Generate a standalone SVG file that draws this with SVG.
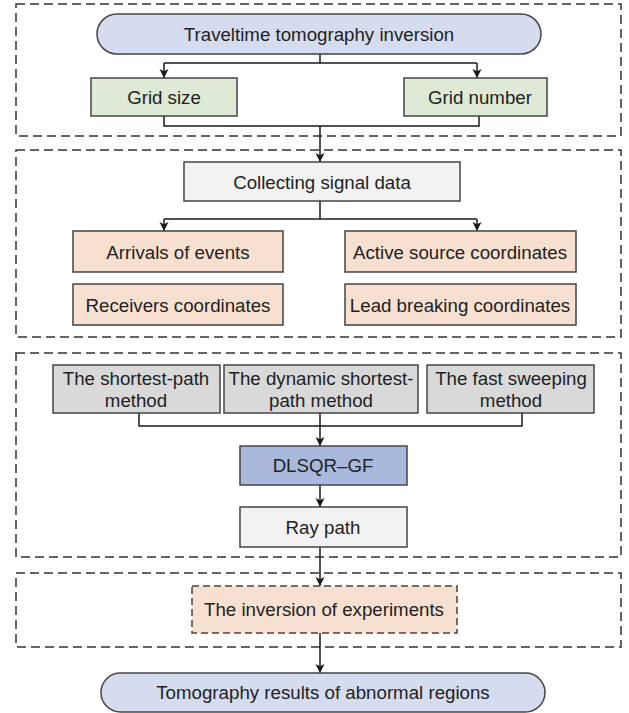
<svg xmlns="http://www.w3.org/2000/svg" width="629" height="713" viewBox="0 0 629 713">
<defs>
<marker id="arr" viewBox="0 0 10 10" refX="10" refY="5" markerWidth="9" markerHeight="10" markerUnits="userSpaceOnUse" orient="auto">
<path d="M0,0 L10,5 L0,10 L2.5,5 Z" fill="#1a1a1a"/>
</marker>
<style>
.sec{fill:none;stroke:#333;stroke-width:1.5;stroke-dasharray:9 5}
.box{stroke:#444;stroke-width:1.5}
.pill{fill:#d6dcef}
.green{fill:#dfead6}
.light{fill:#f2f2f2}
.peach{fill:#f8e0d0}
.gray{fill:#d9d9d9}
.blue{fill:#a9b9dd}
text{font-family:"Liberation Sans",Arial,sans-serif;font-size:18.7px;fill:#222;text-anchor:middle}
.cn{fill:none;stroke:#1a1a1a;stroke-width:1.5}
</style>
</defs>
<rect width="629" height="713" fill="#fff"/>
<g id="sections">
<rect class="sec" x="16" y="4" width="605" height="132"/>
<rect class="sec" x="16" y="150" width="605" height="187"/>
<rect class="sec" x="16" y="353" width="605" height="204"/>
<rect class="sec" x="16" y="573" width="605" height="74"/>
</g>
<g id="connectors">
<path class="cn" d="M320,54 V63 M164,63 H477" />
<path class="cn" d="M164,63 V78" marker-end="url(#arr)"/>
<path class="cn" d="M477,63 V78" marker-end="url(#arr)"/>
<path class="cn" d="M164,116 V126 H479 V116"/>
<path class="cn" d="M320,126 V162" marker-end="url(#arr)"/>
<path class="cn" d="M320,201 V219 M164,219 H477"/>
<path class="cn" d="M164,219 V231" marker-end="url(#arr)"/>
<path class="cn" d="M477,219 V231" marker-end="url(#arr)"/>
<path class="cn" d="M139,413 V426 H522 V413"/>
<path class="cn" d="M320,413 V446" marker-end="url(#arr)"/>
<path class="cn" d="M320,485 V507" marker-end="url(#arr)"/>
<path class="cn" d="M320,547 V586" marker-end="url(#arr)"/>
<path class="cn" d="M320,633 V673" marker-end="url(#arr)"/>
</g>
<g id="n-travel">
<rect class="box pill" x="97" y="14" width="444" height="40" rx="20"/>
<text x="319" y="40.5">Traveltime tomography inversion</text>
</g>
<g id="n-gridsize">
<rect class="box green" x="91" y="78" width="146" height="38"/>
<text x="164" y="103.5">Grid size</text>
</g>
<g id="n-gridnumber">
<rect class="box green" x="404" y="78" width="143" height="38"/>
<text x="480" y="103.5">Grid number</text>
</g>
<g id="n-collect">
<rect class="box light" x="184" y="162" width="276" height="39"/>
<text x="322" y="188.5">Collecting signal data</text>
</g>
<g id="n-arrivals">
<rect class="box peach" x="73" y="231" width="210" height="41"/>
<text x="178" y="258.5">Arrivals of events</text>
</g>
<g id="n-receivers">
<rect class="box peach" x="73" y="284" width="210" height="41"/>
<text x="178" y="311.5">Receivers coordinates</text>
</g>
<g id="n-active">
<rect class="box peach" x="345" y="231" width="231" height="41"/>
<text x="460" y="258.5">Active source coordinates</text>
</g>
<g id="n-lead">
<rect class="box peach" x="345" y="284" width="231" height="41"/>
<text x="460" y="311.5">Lead breaking coordinates</text>
</g>
<g id="n-spm">
<rect class="box gray" x="53" y="365" width="167" height="48"/>
<text x="136" y="385">The shortest-path</text>
<text x="136" y="406.5">method</text>
</g>
<g id="n-dspm">
<rect class="box gray" x="224" y="365" width="194" height="48"/>
<text x="321" y="385">The dynamic shortest-</text>
<text x="321" y="406.5">path method</text>
</g>
<g id="n-fsm">
<rect class="box gray" x="427" y="365" width="167" height="48"/>
<text x="511" y="385">The fast sweeping</text>
<text x="511" y="406.5">method</text>
</g>
<g id="n-dlsqr">
<rect class="box blue" x="240" y="446" width="167" height="39"/>
<text x="323" y="472">DLSQR–GF</text>
</g>
<g id="n-ray">
<rect class="box light" x="240" y="507" width="167" height="40"/>
<text x="323" y="533.5">Ray path</text>
</g>
<g id="n-inversion">
<rect class="peach" x="192" y="586" width="265" height="47" stroke="#444" stroke-width="1.5" stroke-dasharray="7 4"/>
<text x="324" y="616">The inversion of experiments</text>
</g>
<g id="n-results">
<rect class="box pill" x="101" y="673" width="444" height="39" rx="19.5"/>
<text x="323" y="699">Tomography results of abnormal regions</text>
</g>
</svg>
